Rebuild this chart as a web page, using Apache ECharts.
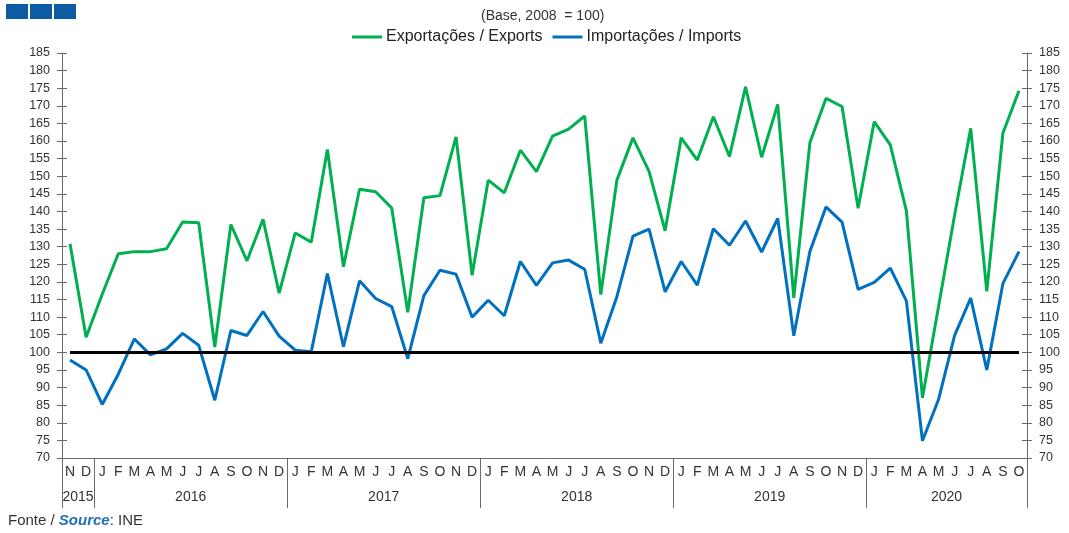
<!DOCTYPE html>
<html>
<head>
<meta charset="utf-8">
<script src="https://cdn.jsdelivr.net/npm/echarts@6/dist/echarts.min.js"></script>
<style>
  html, body { margin: 0; padding: 0; background: #fff; }
  #chart { width: 1069px; height: 533px; }
</style>
</head>
<body>
<div id="chart"></div>
<script>
// 月份标签 (Nov 2015 - Oct 2020)
const monthLetters = ['J', 'F', 'M', 'A', 'M', 'J', 'J', 'A', 'S', 'O', 'N', 'D']
const categories = ['N', 'D']
  .concat(monthLetters, monthLetters, monthLetters, monthLetters)
  .concat(monthLetters.slice(0, 10))

// 年份及其起始位置
const years = ['2015', '2016', '2017', '2018', '2019', '2020']
const yearStarts = [0, 2, 14, 26, 38, 50, 60]

// 出口 / Exports
const exportsData = [
  130.8, 104.3,
  116.5, 128.0, 128.6, 128.6, 129.4, 137.0, 136.8, 101.5, 136.3, 126.0, 137.8, 116.8,
  133.9, 131.3, 157.6, 124.3, 146.3, 145.6, 141.0, 111.4, 143.9, 144.5, 161.2, 121.9,
  148.9, 145.3, 157.4, 151.3, 161.4, 163.4, 167.1, 116.4, 148.9, 160.9, 151.4, 134.5,
  160.9, 154.6, 166.9, 155.6, 175.4, 155.4, 170.4, 115.5, 159.5, 172.1, 169.8, 140.9,
  165.5, 158.9, 140.2, 87.1, 113.0, 139.0, 163.6, 117.3, 162.2, 174.3
]

// 进口 / Imports
const importsData = [
  97.8, 95.0,
  85.2, 93.8, 103.8, 99.3, 101.0, 105.4, 102.0, 86.4, 106.2, 104.8, 111.6, 104.6,
  100.6, 100.2, 122.4, 101.6, 120.3, 115.3, 113.0, 98.2, 116.1, 123.3, 122.2, 110.0,
  114.8, 110.4, 125.8, 119.0, 125.4, 126.2, 123.6, 102.6, 115.8, 133.0, 135.0, 117.2,
  125.8, 119.1, 135.1, 130.4, 137.3, 128.5, 138.0, 104.7, 128.6, 141.3, 137.0, 117.9,
  119.9, 123.9, 114.6, 74.9, 86.6, 104.8, 115.4, 95.0, 119.5, 128.6
]

const baseValue = 100

const axisColor = '#6b6b6b'
const textColor = '#333'
const font = 'Liberation Sans, Arial, sans-serif'

// 年份标签居中位置
const yearCenters = years.map((y, i) => (yearStarts[i] + yearStarts[i + 1]) / 2)

const yAxisBase = function (position, inside, showLabel) {
  return {
    type: 'value',
    position: position,
    min: 70,
    max: 185,
    interval: 5,
    splitLine: { show: false },
    axisLine: { show: showLabel, lineStyle: { color: axisColor, width: 1 } },
    axisTick: { show: true, inside: inside, length: 5, lineStyle: { color: axisColor } },
    axisLabel: {
      show: showLabel,
      color: textColor,
      fontSize: 12.5,
      fontFamily: font,
      margin: 12
    }
  }
}

let myChart = echarts.init(document.getElementById('chart'))
let option = {
  animation: false,
  textStyle: { fontFamily: font },
  title: {
    text: '(Base, 2008  = 100)',
    left: 476,
    top: 4,
    textStyle: { fontSize: 14, fontWeight: 'normal', color: textColor, fontFamily: font }
  },
  legend: {
    top: 24,
    left: 347,
    itemWidth: 30,
    itemHeight: 3,
    itemGap: 10,
    icon: 'rect',
    data: ['Exportações / Exports', 'Importações / Imports'],
    textStyle: { fontSize: 16, color: '#222', fontFamily: font, padding: [0, 0, 0, -1] }
  },
  grid: { left: 62, right: 42, top: 53, bottom: 75 },
  xAxis: [
    {
      type: 'category',
      data: categories,
      boundaryGap: true,
      axisLine: { lineStyle: { color: axisColor, width: 1 } },
      axisTick: { interval: 0, length: 26, lineStyle: { color: axisColor } },
      axisLabel: { interval: 0, color: textColor, fontSize: 14, fontFamily: font, margin: 7 }
    },
    {
      type: 'value',
      position: 'bottom',
      min: 0,
      max: categories.length,
      splitLine: { show: false },
      axisLine: { show: false },
      axisTick: {
        show: true,
        length: 50,
        customValues: yearStarts,
        lineStyle: { color: axisColor }
      },
      axisLabel: {
        color: textColor,
        fontSize: 14,
        fontFamily: font,
        margin: 32,
        customValues: yearCenters,
        formatter: function (val) {
          return years[yearCenters.indexOf(val)] || ''
        }
      }
    }
  ],
  yAxis: [
    yAxisBase('left', false, true),
    yAxisBase('right', false, true),
    yAxisBase('left', true, false),
    yAxisBase('right', true, false)
  ],
  series: [
    {
      name: 'Exportações / Exports',
      type: 'line',
      data: exportsData,
      symbol: 'none',
      color: '#00b050',
      lineStyle: { width: 3, color: '#00b050' },
      z: 2
    },
    {
      name: 'Importações / Imports',
      type: 'line',
      data: importsData,
      symbol: 'none',
      color: '#0070c0',
      lineStyle: { width: 3, color: '#0070c0' },
      z: 3
    },
    {
      name: 'base',
      type: 'line',
      data: [],
      z: 5,
      markLine: {
        silent: true,
        symbol: 'none',
        label: { show: false },
        lineStyle: { color: '#000', width: 3, type: 'solid' },
        data: [[
          { coord: [0, baseValue] },
          { coord: [categories.length - 1, baseValue] }
        ]]
      }
    }
  ],
  graphic: [
    { type: 'rect', left: 6, top: 4, shape: { width: 22, height: 15 }, style: { fill: '#0b5ca3' } },
    { type: 'rect', left: 30, top: 4, shape: { width: 22, height: 15 }, style: { fill: '#0b5ca3' } },
    { type: 'rect', left: 54, top: 4, shape: { width: 22, height: 15 }, style: { fill: '#0b5ca3' } },
    {
      type: 'text',
      left: 8,
      top: 513,
      style: {
        text: '{a|Fonte / }{b|Source}{a|: INE}',
        rich: {
          a: { fontSize: 15, fill: '#333', fontFamily: font },
          b: { fontSize: 15, fill: '#1f6fb8', fontWeight: 'bold', fontStyle: 'italic', fontFamily: font }
        }
      }
    }
  ]
}
myChart.setOption(option)
</script>
</body>
</html>
